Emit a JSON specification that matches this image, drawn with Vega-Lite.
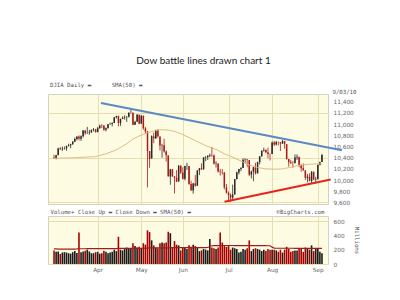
{
  "$schema": "https://vega.github.io/schema/vega-lite/v6.json",
  "background": "white",
  "padding": {"left": 47, "top": 55, "right": 5, "bottom": 5},
  "title": {"text": "Dow battle lines drawn chart 1", "font": "Lato", "fontSize": 10, "fontWeight": "normal", "color": "#1a1a1a", "anchor": "middle", "offset": 15.5},
  "config": {
    "view": {"fill": "#FDFBE2", "stroke": "#D4D2C4"},
    "axis": {"labelFont": "DejaVu Sans", "labelFontSize": 5.8, "labelColor": "#666", "labelOverlap": false, "gridColor": "#E6DFB4", "gridWidth": 1, "domain": false, "ticks": false, "titleFont": "DejaVu Sans Mono", "titleFontWeight": "normal", "titleFontSize": 5.7, "titleColor": "#555"}
  },
  "datasets": {
    "daily": [
      {"date":"2010-03-03","day":0,"open":10405,"high":10455,"low":10380,"close":10396,"dir":"down","volume":190,"sma50":10390,"volsma50":210},
      {"date":"2010-03-04","day":1,"open":10396,"high":10450,"low":10370,"close":10444,"dir":"up","volume":170,"sma50":10391,"volsma50":210},
      {"date":"2010-03-05","day":2,"open":10445,"high":10580,"low":10445,"close":10566,"dir":"up","volume":175,"sma50":10392,"volsma50":209},
      {"date":"2010-03-08","day":3,"open":10566,"high":10590,"low":10540,"close":10552,"dir":"down","volume":140,"sma50":10393,"volsma50":209},
      {"date":"2010-03-09","day":4,"open":10552,"high":10600,"low":10520,"close":10564,"dir":"up","volume":160,"sma50":10394,"volsma50":209},
      {"date":"2010-03-10","day":5,"open":10564,"high":10600,"low":10545,"close":10568,"dir":"up","volume":165,"sma50":10395,"volsma50":208},
      {"date":"2010-03-11","day":6,"open":10567,"high":10615,"low":10525,"close":10611,"dir":"up","volume":160,"sma50":10396,"volsma50":208},
      {"date":"2010-03-12","day":7,"open":10611,"high":10650,"low":10600,"close":10625,"dir":"up","volume":150,"sma50":10397,"volsma50":208},
      {"date":"2010-03-15","day":8,"open":10624,"high":10650,"low":10570,"close":10643,"dir":"up","volume":145,"sma50":10398,"volsma50":208},
      {"date":"2010-03-16","day":9,"open":10643,"high":10700,"low":10630,"close":10686,"dir":"up","volume":165,"sma50":10399,"volsma50":209},
      {"date":"2010-03-17","day":10,"open":10686,"high":10760,"low":10680,"close":10733,"dir":"up","volume":180,"sma50":10400,"volsma50":209},
      {"date":"2010-03-18","day":11,"open":10733,"high":10780,"low":10710,"close":10779,"dir":"up","volume":155,"sma50":10402,"volsma50":210},
      {"date":"2010-03-19","day":12,"open":10779,"high":10800,"low":10710,"close":10742,"dir":"down","volume":440,"sma50":10404,"volsma50":213},
      {"date":"2010-03-22","day":13,"open":10740,"high":10800,"low":10700,"close":10785,"dir":"up","volume":165,"sma50":10406,"volsma50":213},
      {"date":"2010-03-23","day":14,"open":10785,"high":10895,"low":10760,"close":10888,"dir":"up","volume":175,"sma50":10408,"volsma50":213},
      {"date":"2010-03-24","day":15,"open":10888,"high":10890,"low":10810,"close":10836,"dir":"down","volume":185,"sma50":10410,"volsma50":213},
      {"date":"2010-03-25","day":16,"open":10836,"high":10950,"low":10830,"close":10841,"dir":"up","volume":200,"sma50":10412,"volsma50":214},
      {"date":"2010-03-26","day":17,"open":10841,"high":10900,"low":10810,"close":10850,"dir":"up","volume":175,"sma50":10414,"volsma50":214},
      {"date":"2010-03-29","day":18,"open":10850,"high":10905,"low":10850,"close":10895,"dir":"up","volume":150,"sma50":10416,"volsma50":214},
      {"date":"2010-03-30","day":19,"open":10895,"high":10930,"low":10870,"close":10907,"dir":"up","volume":150,"sma50":10418,"volsma50":214},
      {"date":"2010-03-31","day":20,"open":10907,"high":10915,"low":10850,"close":10857,"dir":"down","volume":165,"sma50":10420,"volsma50":214},
      {"date":"2010-04-01","day":21,"open":10857,"high":10950,"low":10857,"close":10927,"dir":"up","volume":170,"sma50":10430,"volsma50":214},
      {"date":"2010-04-05","day":22,"open":10927,"high":10990,"low":10920,"close":10974,"dir":"up","volume":145,"sma50":10440,"volsma50":214},
      {"date":"2010-04-06","day":23,"open":10974,"high":11000,"low":10930,"close":10970,"dir":"down","volume":150,"sma50":10450,"volsma50":214},
      {"date":"2010-04-07","day":24,"open":10970,"high":10985,"low":10880,"close":10898,"dir":"down","volume":185,"sma50":10460,"volsma50":214},
      {"date":"2010-04-08","day":25,"open":10898,"high":10940,"low":10870,"close":10928,"dir":"up","volume":170,"sma50":10470,"volsma50":214},
      {"date":"2010-04-09","day":26,"open":10928,"high":11000,"low":10925,"close":10997,"dir":"up","volume":150,"sma50":10484,"volsma50":215},
      {"date":"2010-04-12","day":27,"open":10997,"high":11030,"low":10990,"close":11005,"dir":"up","volume":160,"sma50":10498,"volsma50":215},
      {"date":"2010-04-13","day":28,"open":11005,"high":11030,"low":10960,"close":11019,"dir":"up","volume":170,"sma50":10512,"volsma50":215},
      {"date":"2010-04-14","day":29,"open":11020,"high":11125,"low":11020,"close":11123,"dir":"up","volume":200,"sma50":10526,"volsma50":215},
      {"date":"2010-04-15","day":30,"open":11123,"high":11150,"low":11100,"close":11145,"dir":"up","volume":180,"sma50":10540,"volsma50":215},
      {"date":"2010-04-16","day":31,"open":11145,"high":11155,"low":10960,"close":11019,"dir":"down","volume":380,"sma50":10562,"volsma50":217},
      {"date":"2010-04-19","day":32,"open":11019,"high":11100,"low":10970,"close":11092,"dir":"up","volume":200,"sma50":10584,"volsma50":217},
      {"date":"2010-04-20","day":33,"open":11092,"high":11140,"low":11090,"close":11117,"dir":"up","volume":190,"sma50":10606,"volsma50":217},
      {"date":"2010-04-21","day":34,"open":11117,"high":11160,"low":11080,"close":11125,"dir":"up","volume":210,"sma50":10628,"volsma50":217},
      {"date":"2010-04-22","day":35,"open":11125,"high":11140,"low":11040,"close":11134,"dir":"up","volume":230,"sma50":10650,"volsma50":218},
      {"date":"2010-04-23","day":36,"open":11134,"high":11210,"low":11120,"close":11204,"dir":"up","volume":220,"sma50":10678,"volsma50":218},
      {"date":"2010-04-26","day":37,"open":11204,"high":11258,"low":11190,"close":11205,"dir":"up","volume":210,"sma50":10706,"volsma50":218},
      {"date":"2010-04-27","day":38,"open":11205,"high":11210,"low":10980,"close":10991,"dir":"down","volume":290,"sma50":10734,"volsma50":219},
      {"date":"2010-04-28","day":39,"open":10991,"high":11060,"low":10985,"close":11045,"dir":"up","volume":250,"sma50":10752,"volsma50":219},
      {"date":"2010-04-29","day":40,"open":11045,"high":11180,"low":11040,"close":11167,"dir":"up","volume":230,"sma50":10770,"volsma50":219},
      {"date":"2010-04-30","day":41,"open":11167,"high":11170,"low":11000,"close":11009,"dir":"down","volume":240,"sma50":10787,"volsma50":219},
      {"date":"2010-05-03","day":42,"open":11009,"high":11160,"low":11008,"close":11151,"dir":"up","volume":210,"sma50":10803,"volsma50":219},
      {"date":"2010-05-04","day":43,"open":11151,"high":11151,"low":10900,"close":10926,"dir":"down","volume":290,"sma50":10820,"volsma50":220},
      {"date":"2010-05-05","day":44,"open":10926,"high":10950,"low":10830,"close":10868,"dir":"down","volume":270,"sma50":10832,"volsma50":220},
      {"date":"2010-05-06","day":45,"open":10868,"high":10880,"low":9870,"close":10520,"dir":"down","volume":470,"sma50":10845,"volsma50":222},
      {"date":"2010-05-07","day":46,"open":10519,"high":10520,"low":10220,"close":10380,"dir":"down","volume":445,"sma50":10857,"volsma50":224},
      {"date":"2010-05-10","day":47,"open":10386,"high":10800,"low":10386,"close":10785,"dir":"up","volume":330,"sma50":10870,"volsma50":224},
      {"date":"2010-05-11","day":48,"open":10780,"high":10850,"low":10660,"close":10749,"dir":"down","volume":260,"sma50":10878,"volsma50":224},
      {"date":"2010-05-12","day":49,"open":10742,"high":10900,"low":10740,"close":10897,"dir":"up","volume":230,"sma50":10885,"volsma50":224},
      {"date":"2010-05-13","day":50,"open":10896,"high":10910,"low":10760,"close":10782,"dir":"down","volume":220,"sma50":10893,"volsma50":224},
      {"date":"2010-05-14","day":51,"open":10780,"high":10780,"low":10530,"close":10620,"dir":"down","volume":290,"sma50":10900,"volsma50":224},
      {"date":"2010-05-17","day":52,"open":10620,"high":10650,"low":10400,"close":10625,"dir":"up","volume":300,"sma50":10899,"volsma50":224},
      {"date":"2010-05-18","day":53,"open":10625,"high":10740,"low":10490,"close":10510,"dir":"down","volume":290,"sma50":10898,"volsma50":225},
      {"date":"2010-05-19","day":54,"open":10510,"high":10530,"low":10330,"close":10444,"dir":"down","volume":300,"sma50":10896,"volsma50":225},
      {"date":"2010-05-20","day":55,"open":10441,"high":10441,"low":10063,"close":10068,"dir":"down","volume":450,"sma50":10895,"volsma50":226},
      {"date":"2010-05-21","day":56,"open":10064,"high":10201,"low":9917,"close":10193,"dir":"up","volume":430,"sma50":10887,"volsma50":228},
      {"date":"2010-05-24","day":57,"open":10193,"high":10200,"low":10060,"close":10067,"dir":"down","volume":230,"sma50":10878,"volsma50":228},
      {"date":"2010-05-25","day":58,"open":10067,"high":10070,"low":9760,"close":10043,"dir":"down","volume":320,"sma50":10870,"volsma50":228},
      {"date":"2010-05-26","day":59,"open":10043,"high":10180,"low":9965,"close":9975,"dir":"down","volume":270,"sma50":10857,"volsma50":228},
      {"date":"2010-05-27","day":60,"open":9975,"high":10265,"low":9975,"close":10259,"dir":"up","volume":260,"sma50":10843,"volsma50":228},
      {"date":"2010-05-28","day":61,"open":10259,"high":10260,"low":10110,"close":10137,"dir":"down","volume":190,"sma50":10830,"volsma50":228},
      {"date":"2010-06-01","day":62,"open":10136,"high":10230,"low":10010,"close":10025,"dir":"down","volume":230,"sma50":10812,"volsma50":228},
      {"date":"2010-06-02","day":63,"open":10025,"high":10255,"low":9995,"close":10250,"dir":"up","volume":230,"sma50":10795,"volsma50":228},
      {"date":"2010-06-03","day":64,"open":10250,"high":10310,"low":10180,"close":10255,"dir":"up","volume":210,"sma50":10778,"volsma50":228},
      {"date":"2010-06-04","day":65,"open":10253,"high":10253,"low":9916,"close":9932,"dir":"down","volume":260,"sma50":10760,"volsma50":228},
      {"date":"2010-06-07","day":66,"open":9932,"high":9990,"low":9813,"close":9816,"dir":"down","volume":240,"sma50":10742,"volsma50":228},
      {"date":"2010-06-08","day":67,"open":9815,"high":9950,"low":9757,"close":9940,"dir":"up","volume":270,"sma50":10724,"volsma50":228},
      {"date":"2010-06-09","day":68,"open":9940,"high":10090,"low":9880,"close":9899,"dir":"down","volume":250,"sma50":10706,"volsma50":228},
      {"date":"2010-06-10","day":69,"open":9900,"high":10173,"low":9899,"close":10173,"dir":"up","volume":230,"sma50":10688,"volsma50":228},
      {"date":"2010-06-11","day":70,"open":10171,"high":10215,"low":10090,"close":10212,"dir":"up","volume":180,"sma50":10670,"volsma50":228},
      {"date":"2010-06-14","day":71,"open":10212,"high":10300,"low":10185,"close":10191,"dir":"down","volume":190,"sma50":10652,"volsma50":228},
      {"date":"2010-06-15","day":72,"open":10192,"high":10410,"low":10190,"close":10405,"dir":"up","volume":210,"sma50":10635,"volsma50":228},
      {"date":"2010-06-16","day":73,"open":10403,"high":10430,"low":10340,"close":10410,"dir":"up","volume":200,"sma50":10617,"volsma50":228},
      {"date":"2010-06-17","day":74,"open":10409,"high":10445,"low":10360,"close":10434,"dir":"up","volume":190,"sma50":10600,"volsma50":230},
      {"date":"2010-06-18","day":75,"open":10434,"high":10475,"low":10410,"close":10450,"dir":"up","volume":350,"sma50":10588,"volsma50":245},
      {"date":"2010-06-21","day":76,"open":10450,"high":10595,"low":10415,"close":10443,"dir":"down","volume":230,"sma50":10575,"volsma50":255},
      {"date":"2010-06-22","day":77,"open":10442,"high":10460,"low":10280,"close":10294,"dir":"down","volume":220,"sma50":10562,"volsma50":256},
      {"date":"2010-06-23","day":78,"open":10293,"high":10340,"low":10225,"close":10298,"dir":"up","volume":210,"sma50":10550,"volsma50":256},
      {"date":"2010-06-24","day":79,"open":10298,"high":10298,"low":10135,"close":10153,"dir":"down","volume":230,"sma50":10530,"volsma50":256},
      {"date":"2010-06-25","day":80,"open":10152,"high":10200,"low":10080,"close":10144,"dir":"down","volume":440,"sma50":10510,"volsma50":256},
      {"date":"2010-06-28","day":81,"open":10144,"high":10200,"low":10100,"close":10138,"dir":"down","volume":300,"sma50":10490,"volsma50":258},
      {"date":"2010-06-29","day":82,"open":10138,"high":10138,"low":9835,"close":9870,"dir":"down","volume":260,"sma50":10470,"volsma50":258},
      {"date":"2010-06-30","day":83,"open":9870,"high":9930,"low":9760,"close":9774,"dir":"down","volume":240,"sma50":10455,"volsma50":258},
      {"date":"2010-07-01","day":84,"open":9773,"high":9800,"low":9620,"close":9732,"dir":"down","volume":250,"sma50":10440,"volsma50":258},
      {"date":"2010-07-02","day":85,"open":9732,"high":9760,"low":9614,"close":9686,"dir":"down","volume":200,"sma50":10425,"volsma50":258},
      {"date":"2010-07-06","day":86,"open":9688,"high":9920,"low":9650,"close":9744,"dir":"up","volume":230,"sma50":10410,"volsma50":258},
      {"date":"2010-07-07","day":87,"open":9744,"high":10020,"low":9740,"close":10018,"dir":"up","volume":220,"sma50":10392,"volsma50":257},
      {"date":"2010-07-08","day":88,"open":10018,"high":10150,"low":10010,"close":10139,"dir":"up","volume":210,"sma50":10375,"volsma50":257},
      {"date":"2010-07-09","day":89,"open":10138,"high":10200,"low":10100,"close":10198,"dir":"up","volume":160,"sma50":10357,"volsma50":257},
      {"date":"2010-07-12","day":90,"open":10198,"high":10230,"low":10160,"close":10217,"dir":"up","volume":170,"sma50":10340,"volsma50":257},
      {"date":"2010-07-13","day":91,"open":10218,"high":10390,"low":10218,"close":10364,"dir":"up","volume":210,"sma50":10322,"volsma50":256},
      {"date":"2010-07-14","day":92,"open":10364,"high":10390,"low":10300,"close":10367,"dir":"up","volume":200,"sma50":10305,"volsma50":256},
      {"date":"2010-07-15","day":93,"open":10367,"high":10380,"low":10230,"close":10360,"dir":"down","volume":220,"sma50":10287,"volsma50":256},
      {"date":"2010-07-16","day":94,"open":10356,"high":10360,"low":10070,"close":10098,"dir":"down","volume":330,"sma50":10270,"volsma50":256},
      {"date":"2010-07-19","day":95,"open":10098,"high":10170,"low":10030,"close":10154,"dir":"up","volume":180,"sma50":10259,"volsma50":256},
      {"date":"2010-07-20","day":96,"open":10153,"high":10240,"low":9980,"close":10230,"dir":"up","volume":210,"sma50":10248,"volsma50":256},
      {"date":"2010-07-21","day":97,"open":10229,"high":10310,"low":10100,"close":10121,"dir":"down","volume":220,"sma50":10236,"volsma50":256},
      {"date":"2010-07-22","day":98,"open":10120,"high":10330,"low":10120,"close":10322,"dir":"up","volume":210,"sma50":10225,"volsma50":256},
      {"date":"2010-07-23","day":99,"open":10322,"high":10430,"low":10280,"close":10425,"dir":"up","volume":200,"sma50":10219,"volsma50":256},
      {"date":"2010-07-26","day":100,"open":10424,"high":10530,"low":10420,"close":10525,"dir":"up","volume":180,"sma50":10213,"volsma50":256},
      {"date":"2010-07-27","day":101,"open":10526,"high":10580,"low":10510,"close":10537,"dir":"up","volume":200,"sma50":10206,"volsma50":256},
      {"date":"2010-07-28","day":102,"open":10537,"high":10550,"low":10480,"close":10498,"dir":"down","volume":180,"sma50":10200,"volsma50":256},
      {"date":"2010-07-29","day":103,"open":10498,"high":10580,"low":10390,"close":10468,"dir":"down","volume":210,"sma50":10199,"volsma50":255},
      {"date":"2010-07-30","day":104,"open":10466,"high":10480,"low":10350,"close":10466,"dir":"down","volume":200,"sma50":10198,"volsma50":255},
      {"date":"2010-08-02","day":105,"open":10468,"high":10690,"low":10468,"close":10674,"dir":"up","volume":200,"sma50":10196,"volsma50":235},
      {"date":"2010-08-03","day":106,"open":10673,"high":10700,"low":10610,"close":10636,"dir":"down","volume":200,"sma50":10195,"volsma50":222},
      {"date":"2010-08-04","day":107,"open":10636,"high":10700,"low":10620,"close":10680,"dir":"up","volume":190,"sma50":10196,"volsma50":220},
      {"date":"2010-08-05","day":108,"open":10679,"high":10690,"low":10620,"close":10675,"dir":"down","volume":170,"sma50":10197,"volsma50":220},
      {"date":"2010-08-06","day":109,"open":10674,"high":10680,"low":10520,"close":10653,"dir":"down","volume":200,"sma50":10199,"volsma50":220},
      {"date":"2010-08-09","day":110,"open":10653,"high":10720,"low":10650,"close":10699,"dir":"up","volume":160,"sma50":10200,"volsma50":220},
      {"date":"2010-08-10","day":111,"open":10698,"high":10700,"low":10560,"close":10644,"dir":"down","volume":200,"sma50":10208,"volsma50":220},
      {"date":"2010-08-11","day":112,"open":10642,"high":10643,"low":10366,"close":10379,"dir":"down","volume":240,"sma50":10215,"volsma50":220},
      {"date":"2010-08-12","day":113,"open":10378,"high":10378,"low":10240,"close":10320,"dir":"down","volume":210,"sma50":10222,"volsma50":220},
      {"date":"2010-08-13","day":114,"open":10319,"high":10360,"low":10290,"close":10303,"dir":"down","volume":170,"sma50":10230,"volsma50":220},
      {"date":"2010-08-16","day":115,"open":10302,"high":10340,"low":10220,"close":10302,"dir":"down","volume":180,"sma50":10239,"volsma50":220},
      {"date":"2010-08-17","day":116,"open":10302,"high":10460,"low":10302,"close":10406,"dir":"up","volume":190,"sma50":10248,"volsma50":219},
      {"date":"2010-08-18","day":117,"open":10406,"high":10460,"low":10360,"close":10416,"dir":"up","volume":190,"sma50":10256,"volsma50":219},
      {"date":"2010-08-19","day":118,"open":10414,"high":10420,"low":10230,"close":10271,"dir":"down","volume":220,"sma50":10265,"volsma50":219},
      {"date":"2010-08-20","day":119,"open":10270,"high":10280,"low":10150,"close":10214,"dir":"down","volume":220,"sma50":10269,"volsma50":219},
      {"date":"2010-08-23","day":120,"open":10214,"high":10300,"low":10170,"close":10175,"dir":"down","volume":170,"sma50":10273,"volsma50":219},
      {"date":"2010-08-24","day":121,"open":10174,"high":10175,"low":10000,"close":10041,"dir":"down","volume":230,"sma50":10276,"volsma50":219},
      {"date":"2010-08-25","day":122,"open":10039,"high":10110,"low":9960,"close":10060,"dir":"up","volume":220,"sma50":10280,"volsma50":219},
      {"date":"2010-08-26","day":123,"open":10060,"high":10120,"low":9980,"close":9985,"dir":"down","volume":200,"sma50":10283,"volsma50":219},
      {"date":"2010-08-27","day":124,"open":9985,"high":10160,"low":9936,"close":10150,"dir":"up","volume":260,"sma50":10285,"volsma50":219},
      {"date":"2010-08-30","day":125,"open":10149,"high":10150,"low":10000,"close":10010,"dir":"down","volume":180,"sma50":10288,"volsma50":219},
      {"date":"2010-08-31","day":126,"open":10006,"high":10060,"low":9940,"close":10015,"dir":"up","volume":220,"sma50":10290,"volsma50":219},
      {"date":"2010-09-01","day":127,"open":10016,"high":10280,"low":10016,"close":10270,"dir":"up","volume":220,"sma50":10290,"volsma50":218},
      {"date":"2010-09-02","day":128,"open":10270,"high":10330,"low":10260,"close":10321,"dir":"up","volume":170,"sma50":10290,"volsma50":218},
      {"date":"2010-09-03","day":129,"open":10322,"high":10470,"low":10322,"close":10448,"dir":"up","volume":150,"sma50":10290,"volsma50":218}
    ],
    "trend": [
      {"line": "resistance", "day": 22.6, "price": 11379},
      {"line": "resistance", "day": 138.6, "price": 10533},
      {"line": "support", "day": 82.1, "price": 9613},
      {"line": "support", "day": 133.2, "price": 10010}
    ]
  },
  "bounds": "flush",
  "spacing": 12,
  "vconcat": [
    {
      "width": 280,
      "height": 110,
      "title": {"text": "DJIA Daily ▬\u00a0\u00a0\u00a0\u00a0\u00a0\u00a0SMA(50) ▬", "anchor": "start", "font": "DejaVu Sans Mono", "fontSize": 5.7, "fontWeight": "normal", "color": "#555", "offset": 1, "dx": 2},
      "data": {"name": "daily"},
      "encoding": {
        "x": {"field": "day", "type": "quantitative", "scale": {"domain": [-0.5, 129.5], "nice": false, "zero": false},
          "axis": {"values": [21, 42, 62, 84, 105, 127], "labels": false, "title": "Volume+ Close Up ▬ Close Down ▬ SMA(50) ▬\u00a0\u00a0\u00a0\u00a0\u00a0\u00a0\u00a0\u00a0\u00a0\u00a0\u00a0\u00a0\u00a0\u00a0\u00a0\u00a0\u00a0\u00a0\u00a0\u00a0\u00a0\u00a0\u00a0\u00a0\u00a0©BigCharts.com", "titleX": 2, "titleY": 7, "titleAlign": "left", "titleBaseline": "middle"}}
      },
      "resolve": {"scale": {"y": "independent"}, "axis": {"y": "independent"}},
      "layer": [
        {
          "mark": {"type": "rule", "strokeWidth": 0.8},
          "encoding": {
            "y": {"field": "low", "type": "quantitative", "scale": {"domain": [9573, 11539], "nice": false, "zero": false},
              "axis": {"orient": "right", "values": [9600, 10400, 11200], "format": ",d", "labelPadding": 5, "title": "9/03/10", "titleAngle": 0, "titleX": 4, "titleY": -2.5, "titleAlign": "left", "titleBaseline": "middle"}},
            "y2": {"field": "high"},
            "color": {"field": "dir", "type": "nominal", "scale": {"domain": ["up", "down"], "range": ["#2a2a2a", "#B01818"]}, "legend": null}
          }
        },
        {
          "mark": {"type": "bar", "size": 1.5},
          "encoding": {
            "y": {"field": "open", "type": "quantitative", "scale": {"domain": [9573, 11539], "nice": false, "zero": false},
              "axis": {"orient": "right", "values": [9800, 10600, 11400], "format": ",d", "labelPadding": 5, "title": null}},
            "y2": {"field": "close"},
            "color": {"field": "dir", "type": "nominal", "legend": null}
          }
        },
        {
          "mark": {"type": "line", "color": "#DDBB80", "strokeWidth": 1},
          "encoding": {"y": {"field": "sma50", "type": "quantitative", "scale": {"domain": [9573, 11539], "nice": false, "zero": false},
            "axis": {"orient": "right", "values": [10000, 10800], "format": ",d", "labelPadding": 5, "title": null}}}
        },
        {
          "data": {"name": "trend"},
          "mark": {"type": "line", "strokeWidth": 2},
          "encoding": {
            "y": {"field": "price", "type": "quantitative", "scale": {"domain": [9573, 11539], "nice": false, "zero": false},
              "axis": {"orient": "right", "values": [10200, 11000], "format": ",d", "labelPadding": 5, "title": null}},
            "stroke": {"field": "line", "type": "nominal", "scale": {"domain": ["resistance", "support"], "range": ["#5A89C4", "#E8231C"]}, "legend": null}
          }
        }
      ]
    },
    {
      "width": 280,
      "height": 48,
      "data": {"name": "daily"},
      "encoding": {
        "x": {"field": "day", "type": "quantitative", "scale": {"domain": [-0.5, 129.5], "nice": false, "zero": false},
          "axis": {"values": [21, 42, 62, 84, 105, 127], "labelExpr": "datum.value == 21 ? 'Apr' : datum.value == 42 ? 'May' : datum.value == 62 ? 'Jun' : datum.value == 84 ? 'Jul' : datum.value == 105 ? 'Aug' : 'Sep'", "labelPadding": 2, "title": null}}
      },
      "resolve": {"scale": {"y": "independent"}, "axis": {"y": "independent"}},
      "layer": [
        {
          "transform": [{"filter": "datum.dir == 'up'"}],
          "mark": {"type": "bar", "size": 1.6, "color": "#1a1a1a"},
          "encoding": {
            "y": {"field": "volume", "type": "quantitative", "scale": {"domain": [0, 670], "nice": false},
              "axis": {"orient": "right", "values": [0, 600], "labelPadding": 5, "title": "Millions", "titleAngle": 90, "titleX": 28, "titleY": 24, "titleAlign": "center", "titleBaseline": "middle"}}
          }
        },
        {
          "transform": [{"filter": "datum.dir == 'down'"}],
          "mark": {"type": "bar", "size": 1.6, "color": "#A80000"},
          "encoding": {
            "y": {"field": "volume", "type": "quantitative", "scale": {"domain": [0, 670], "nice": false},
              "axis": {"orient": "right", "values": [200], "labelPadding": 5, "title": null}}
          }
        },
        {
          "mark": {"type": "line", "color": "#9E1E1E", "strokeWidth": 1.2},
          "encoding": {"y": {"field": "volsma50", "type": "quantitative", "scale": {"domain": [0, 670], "nice": false},
            "axis": {"orient": "right", "values": [400], "labelPadding": 5, "title": null}}}
        }
      ]
    }
  ]
}
